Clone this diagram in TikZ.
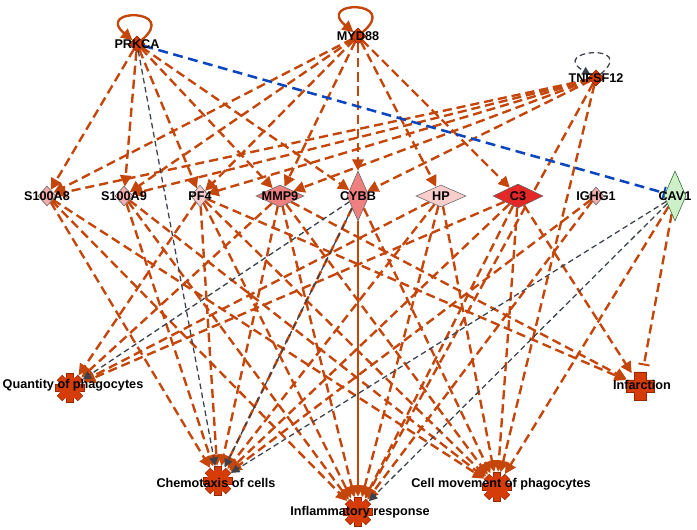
\documentclass[tikz,border=0pt]{standalone}
\usepackage{fontspec}
\setmainfont{Liberation Sans}
\usetikzlibrary{shapes.geometric,arrows.meta,backgrounds}
\definecolor{rust}{RGB}{196,70,10}
\definecolor{fire}{RGB}{214,60,8}
\definecolor{firedark}{RGB}{150,40,0}
\definecolor{rosy}{RGB}{242,172,172}
\definecolor{salmon}{RGB}{238,128,128}
\definecolor{blush}{RGB}{250,205,205}
\definecolor{scarlet}{RGB}{228,40,40}
\definecolor{mint}{RGB}{205,240,200}
\definecolor{slate}{RGB}{60,66,76}
\definecolor{royal}{RGB}{12,70,190}
\tikzset{
	regnode/.style={diamond,fill=fire,draw=firedark,thin,inner sep=0pt,minimum width=0.4cm,minimum height=0.4cm},
	genenode/.style={diamond,draw=gray!80!black,thin,inner sep=0pt},
	fnode/.style={circle,inner sep=0pt,minimum size=0.75cm},
	gl/.style={font=\bfseries\fontsize{9}{10}\selectfont,inner sep=0pt},
	actarrow/.style={draw=rust,line width=1.7pt,dash pattern=on 6.5pt off 3.5pt,-{Triangle[length=8pt,width=8pt]}},
	grayarrow/.style={draw=slate,line width=0.9pt,dash pattern=on 4pt off 2.5pt,-{Triangle[length=6pt,width=6pt]}},
	solidarrow/.style={draw=rust,line width=1.7pt,-{Triangle[length=8pt,width=8pt]}},
	blueblock/.style={draw=royal,line width=1.8pt,dash pattern=on 7pt off 4pt,-{Bar[width=9pt,line width=1.4pt]}},
	rustblock/.style={draw=rust,line width=1.7pt,dash pattern=on 6.5pt off 3.5pt,-{Bar[width=8pt,line width=1.4pt]},shorten >=4pt}
}
\newcommand{\gearat}[1]{%
	\begin{scope}[shift={(#1)}]
		\foreach \a in {0,45,90,135}
			\filldraw[fill=fire,draw=firedark,thin,rotate=\a] (-3.5,-14.5) rectangle (3.5,14.5);
		\filldraw[fill=fire,draw=fire] (0,0) circle (11);
	\end{scope}}
\begin{document}
\begin{tikzpicture}[x=0.025cm,y=-0.025cm]
	\useasboundingbox (0,0) rectangle (697,530);
	% upstream regulators
	\node[regnode,label={[gl]center:PRKCA}] (prkca) at (137,44) {};
	\node[regnode,label={[gl]center:MYD88}] (myd) at (358,36) {};
	\node[regnode,label={[gl]center:TNFSF12}] (tnf) at (596,78) {};
	% genes
	\node[genenode,fill=rosy,minimum width=0.45cm,minimum height=0.5cm,label={[gl]center:S100A8}] (s8) at (47,196) {};
	\node[genenode,fill=rosy,minimum width=0.45cm,minimum height=0.5cm,label={[gl]center:S100A9}] (s9) at (124,196) {};
	\node[genenode,fill=rosy!60,minimum width=0.45cm,minimum height=0.55cm,label={[gl]center:PF4}] (pf4) at (200,196) {};
	\node[genenode,fill=salmon,minimum width=1.2cm,minimum height=0.55cm,label={[gl]center:MMP9}] (mmp9) at (280,196) {};
	\node[genenode,fill=salmon,minimum width=0.55cm,minimum height=1.25cm,label={[gl]center:CYBB}] (cybb) at (358,196) {};
	\node[genenode,fill=blush,minimum width=1.25cm,minimum height=0.55cm,label={[gl]center:HP}] (hp) at (441,196) {};
	\node[genenode,fill=scarlet,minimum width=1.25cm,minimum height=0.6cm,label={[gl]center:C3}] (c3) at (518,196) {};
	\node[genenode,fill=rosy,minimum width=0.4cm,minimum height=0.45cm,label={[gl]center:IGHG1}] (ighg) at (596,196) {};
	\node[genenode,fill=mint,draw=gray!60!green!60!black,minimum width=0.55cm,minimum height=1.25cm,label={[gl]center:CAV1}] (cav1) at (675,196) {};
	% functions
	\node[fnode] (quant) at (70,388) {};
	\node[fnode] (chemo) at (218,481) {};
	\node[fnode] (infl) at (358,512) {};
	\node[fnode] (cellmov) at (497,487) {};
	\node[fnode] (infarct) at (640,386) {};
	\begin{scope}[on background layer]
		\foreach \a/\b in {prkca/s8,prkca/s9,prkca/pf4,prkca/mmp9,prkca/cybb,
			myd/s8,myd/s9,myd/pf4,myd/mmp9,myd/cybb,myd/hp,myd/c3,
			tnf/s8,tnf/s9,tnf/pf4,tnf/mmp9,tnf/cybb,tnf/infl,tnf/cellmov,
			s8/chemo,s8/infl,s8/cellmov,
			s9/chemo,s9/infl,s9/cellmov,
			pf4/quant,pf4/chemo,pf4/infl,pf4/cellmov,pf4/infarct,
			mmp9/quant,mmp9/chemo,mmp9/infl,mmp9/cellmov,mmp9/infarct,
			cybb/chemo,cybb/cellmov,
			hp/quant,hp/chemo,hp/infl,hp/cellmov,
			c3/quant,c3/chemo,c3/infl,c3/cellmov,c3/infarct,
			ighg/chemo,ighg/infl,
			cav1/cellmov}
			\draw[actarrow] (\a) -- (\b);
		\foreach \a/\b in {prkca/chemo,cybb/quant,cybb/chemo,cav1/chemo,cav1/infl}
			\draw[grayarrow] (\a) -- (\b);
		\draw[solidarrow] (cybb) -- (infl);
		\draw[blueblock] (prkca) -- (cav1);
		\draw[rustblock] (cav1) -- (infarct);
		% self loops
		\draw[actarrow,dash pattern=] (prkca) to[out=40,in=140,min distance=1.25cm] (prkca);
		\draw[actarrow,dash pattern=] (myd) to[out=40,in=140,min distance=1.25cm] (myd);
		\draw[grayarrow] (tnf) to[out=40,in=150,min distance=1.25cm] (tnf);
	\end{scope}
	\gearat{quant}
	\gearat{chemo}
	\gearat{infl}
	\gearat{cellmov}
	\filldraw[fill=fire,draw=firedark,thin] (634,372) -- (646,372) -- (646,380) -- (654,380) -- (654,392) -- (646,392) -- (646,400) -- (634,400) -- (634,392) -- (626,392) -- (626,380) -- (634,380) -- cycle;
	% function labels
	\node[gl] (quantlbl) at (73,385) {Quantity of phagocytes};
	\node[gl] (chemolbl) at (216,483) {Chemotaxis of cells};
	\node[gl] (infllbl) at (360,512) {Inflammatory response};
	\node[gl] (cellmovlbl) at (501,484) {Cell movement of phagocytes};
	\node[gl] (infarctlbl) at (642,385) {Infarction};
\end{tikzpicture}
\end{document}
